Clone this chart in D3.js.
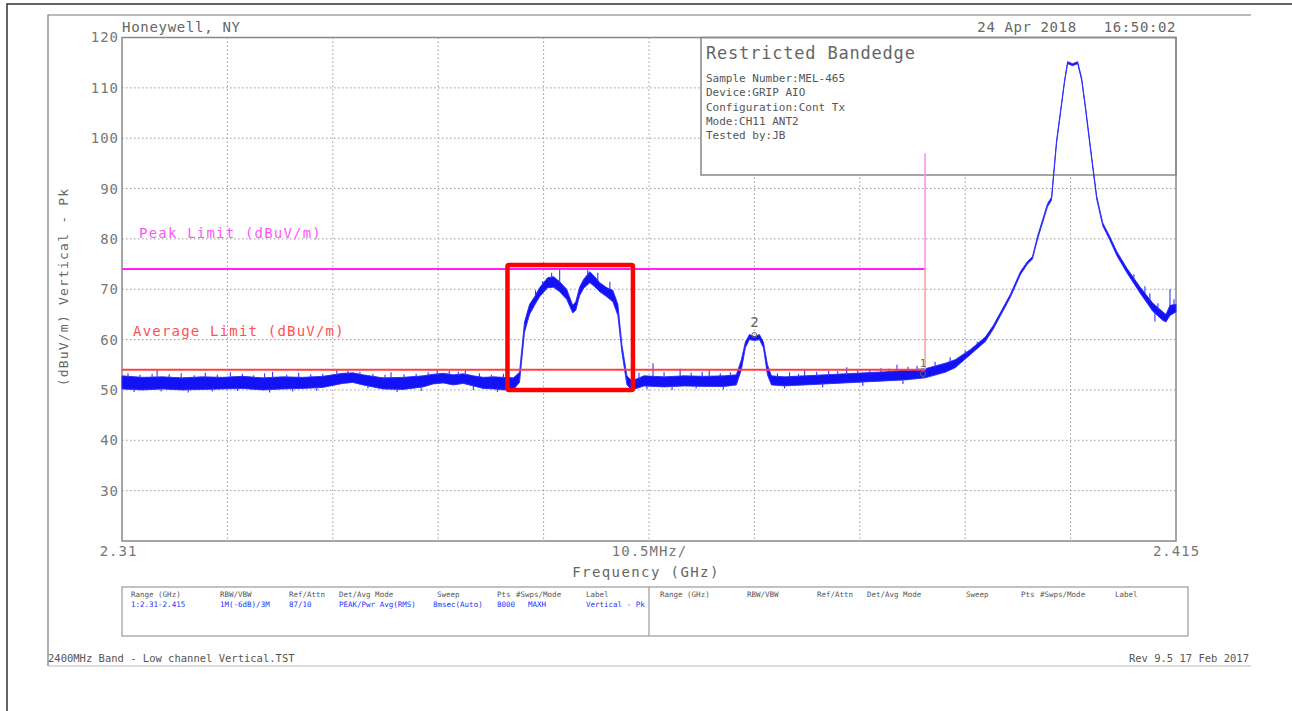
<!DOCTYPE html>
<html><head><meta charset="utf-8">
<script src="https://cdn.jsdelivr.net/npm/d3@7/dist/d3.min.js"></script>
<style>
html,body{margin:0;padding:0;background:#fff;}
svg{display:block;}
text{font-family:"DejaVu Sans Mono",monospace;white-space:pre;}
</style></head><body>
<svg id="chart" width="1292" height="711"></svg>
<script>
// ---------- data ----------
const freqMHz = [2310,2312,2314,2316,2318,2320,2322,2324,2326,2328,2330,2332,2333,2334,2336,2338,2340,2341,2342,2343,2344,2345,2346,2347,2348,2349,
  2349.6,2350.1,2350.6,2351.1,2351.6,2352.4,2353.0,2353.6,2354.3,2354.9,2355.2,2355.6,2356.0,2356.6,2357.1,2357.6,2358.3,2358.9,2359.4,2359.8,2360.3,2360.8,
  2362,2364,2366,2368,2370,2371.2,2371.7,2372.1,2372.5,2373.0,2373.5,2373.9,2374.3,2374.7,
  2376,2378,2380,2382,2384,2386,2388,2390,2392,2393,2394.5,2396,2396.8,2398.5,2399.5,2400.2,2400.7,2401.2,2402.2,2402.6,2403.1,2403.9,2404.2,2404.7,2405.2,2405.6,
  2406.0,2406.6,2407.1,2407.7,2408.4,2409.1,2410.1,2411.4,2412.7,2413.7,2414.0,2414.4,2415];
const traceMax = [52.8,52.5,52.6,52.4,52.6,52.5,52.7,52.4,52.6,52.5,52.7,53.3,53.4,53.0,52.4,52.5,52.8,53.1,53.3,53.0,53.2,52.8,52.5,52.6,52.5,52.4,
  53.5,63.5,67.0,68.5,70.3,72.3,72.5,71.5,70.0,66.8,67.5,70.5,72.0,73.5,72.5,71.3,70.3,69.8,67.0,59.0,52.8,51.8,
  52.8,52.6,52.8,52.7,52.8,53.0,56.0,59.5,61.0,60.6,61.0,59.5,55.0,52.8,
  52.6,52.8,53.0,53.2,53.4,53.6,53.9,54.2,55.3,56.0,58.0,60.5,62.8,69.0,73.5,75.5,76.5,80.5,87.0,88.3,99.5,111.5,115.2,114.8,115.2,112.0,
  106.0,96.3,88.5,83.2,80.5,77.5,74.2,70.5,67.2,65.5,65.0,66.8,67.0];
const traceMin = [50.2,50.0,50.2,50.0,50.1,50.2,50.3,50.0,50.2,50.3,50.5,51.3,51.5,51.0,50.2,50.1,50.6,51.2,51.4,51.0,51.3,50.8,50.3,50.2,50.0,50.1,
  51.5,61.5,65.0,66.8,68.5,70.3,70.4,69.5,68.0,65.3,65.8,68.8,70.2,71.3,70.5,69.5,68.5,67.5,64.8,57.5,51.0,50.0,
  50.8,50.6,50.8,50.7,50.7,51.0,54.0,58.4,60.0,59.8,60.0,58.4,53.0,51.0,
  50.8,51.0,51.2,51.4,51.6,51.8,52.0,52.4,53.5,54.4,57.0,59.6,62.1,68.4,72.9,75.0,76.0,79.9,86.4,87.7,99.0,111.1,114.8,114.4,114.8,111.5,
  105.5,95.8,87.9,82.6,79.8,76.7,73.3,69.3,65.6,63.8,63.5,64.8,65.5];
// single-sample peaks rising above the trace envelope
const spikeFreq = [2310.6,2311.8,2313.0,2313.5,2314.7,2315.9,2317.2,2318.3,2319.5,2320.8,2322.0,2323.1,2324.2,2325.0,2326.4,2327.6,2328.8,2330.0,
  2331.4,2332.5,2333.7,2335.0,2336.2,2336.8,2338.1,2339.3,2340.5,2341.4,2342.6,2343.5,2344.2,2345.6,2346.8,2348.0,
  2351.2,2351.9,2352.8,2353.6,2356.4,2357.4,2358.6,
  2361.5,2362.9,2364.0,2365.6,2366.7,2367.8,2368.5,2369.6,2370.6,
  2375.3,2376.5,2377.4,2378.0,2379.2,2380.4,2381.3,2382.2,2383.3,2384.5,2385.6,2386.4,2387.2,2388.3,2389.2,2391.0,2392.5,2394.0,2395.2,
  2410.8,2411.9,2412.4,2413.2,2414.4,2414.8];
const spikeTop = [53.3,53.0,53.2,54.0,53.1,53.3,52.9,53.4,53.0,53.5,53.2,52.9,53.3,53.6,53.0,53.4,53.1,53.2,
  54.0,53.8,53.6,53.2,53.0,53.5,53.1,53.2,53.5,54.0,53.8,53.6,53.9,53.3,53.0,53.2,
  69.8,71.6,73.3,74.2,74.0,73.3,71.5,
  53.4,55.3,53.5,54.2,53.4,53.6,53.9,53.3,53.5,
  53.3,53.5,53.2,54.0,53.6,53.8,53.7,54.5,54.0,54.1,54.3,54.2,55.0,54.6,54.8,55.6,56.5,57.8,59.6,
  73.0,70.6,69.2,67.2,70.0,68.0];
// single-sample dips below the trace envelope
const dipFreq = [2311.2,2313.9,2316.6,2319.0,2321.5,2324.7,2327.0,2329.4,2334.5,2337.4,2339.8,2345.0,2347.4,
  2362.3,2364.8,2367.2,2369.9,2376.0,2379.8,2383.8,2387.8,2412.9];
const dipBottom = [49.6,49.7,49.5,49.7,49.8,49.5,49.7,49.8,50.3,49.6,49.8,50.0,49.6,
  50.2,50.0,50.3,50.1,50.3,50.5,50.8,51.2,63.6];

const yTickValues = [30,40,50,60,70,80,90,100,110,120];
const xTickValues = [2310,2362.5,2415];
const xTickLabels = ["2.31","10.5MHz/","2.415"];
const xDivisionStep = 10.5;           // MHz per division
const peakLimit = 74, averageLimit = 54;
const limitStartMHz = 2310, limitEndMHz = 2390, limitMarkerTop = 97;
const markerFreq = [2389.8, 2373.0];
const markerLevel = [53.2, 60.9];
const markerLabels = ["1","2"];
const highlightFreq = [2348.4, 2360.9];
const highlightLevel = [50.0, 74.8];
const infoTitle = "Restricted Bandedge";
const infoLines = ["Sample Number:MEL-465","Device:GRIP AIO","Configuration:Cont Tx","Mode:CH11 ANT2","Tested by:JB"];
const tableHeaders = ["Range (GHz)","RBW/VBW","Ref/Attn","Det/Avg Mode","Sweep","Pts","#Swps/Mode","Label"];
const tableValues = ["1:2.31-2.415","1M(-6dB)/3M","87/10","PEAK/Pwr Avg(RMS)","8msec(Auto)","8000","MAXH","Vertical - Pk"];

// ---------- layout ----------
const svg = d3.select("#chart");
const X0 = 122, X1 = 1176, Y0 = 37.5, Y1 = 541;
const x = d3.scaleLinear().domain([2310, 2415]).range([X0, X1]);
const y = d3.scaleLinear().domain([20, 120]).range([Y1, Y0]);
const grey = "#666";

// page frames
svg.append("path").attr("d", "M7,711 V4 H1292").attr("fill","none").attr("stroke","#333").attr("stroke-width",1.5);
svg.append("path").attr("d", "M48,666 V15 H1251").attr("fill","none").attr("stroke","#777").attr("stroke-width",1.2);
svg.append("line").attr("x1",48).attr("x2",1251).attr("y1",666).attr("y2",666).attr("stroke","#bbb").attr("stroke-width",1);

// grid
const gridX = d3.range(1, 10).map(i => 2310 + i * xDivisionStep);
const gridY = yTickValues.filter(v => v < 120);
const g = svg.append("g");
g.selectAll(".gx").data(gridX).join("line")
  .attr("x1", d => x(d)).attr("x2", d => x(d)).attr("y1", Y0).attr("y2", Y1)
  .attr("stroke","#999").attr("stroke-width",1).attr("stroke-dasharray","1.5,2.5");
g.selectAll(".gy").data(gridY).join("line")
  .attr("x1", X0).attr("x2", X1).attr("y1", d => y(d)).attr("y2", d => y(d))
  .attr("stroke","#999").attr("stroke-width",1).attr("stroke-dasharray","1.5,2.5");

// info box (covers grid)
svg.append("rect").attr("x",701).attr("y",Y0).attr("width",X1-701).attr("height",175-Y0)
  .attr("fill","#fff").attr("stroke","#888").attr("stroke-width",1.5);
svg.append("text").attr("x",706).attr("y",59).attr("font-size",17).attr("letter-spacing",0.8)
  .attr("fill",grey).text(infoTitle);
svg.selectAll(".info").data(infoLines).join("text")
  .attr("x",706).attr("y",(d,i)=>82+i*14.3).attr("font-size",11).attr("fill","#555").text(d=>d);

// plot frame
svg.append("rect").attr("x",X0).attr("y",Y0).attr("width",X1-X0).attr("height",Y1-Y0)
  .attr("fill","none").attr("stroke","#888").attr("stroke-width",1.5);

// axes
const yAxis = d3.axisLeft(y).tickValues(yTickValues).tickSize(0).tickPadding(3).tickFormat(d3.format("d"));
const ya = svg.append("g").attr("transform",`translate(${X0},0)`).call(yAxis);
ya.select(".domain").remove();
ya.selectAll("text").attr("font-size",14).attr("letter-spacing",1).attr("fill","#777")
  .attr("font-family","DejaVu Sans Mono");
const xAxis = d3.axisBottom(x).tickValues(xTickValues).tickSize(0).tickPadding(0)
  .tickFormat((d,i)=>xTickLabels[i]);
const xa = svg.append("g").attr("transform",`translate(0,${Y1})`).call(xAxis);
xa.select(".domain").remove();
xa.selectAll("text").attr("font-size",14).attr("letter-spacing",1).attr("fill","#777")
  .attr("font-family","DejaVu Sans Mono").attr("dy","1.05em")
  .attr("dx",(d,i)=> i===0 ? -4 : 0);

svg.append("text").attr("x",646).attr("y",577).attr("text-anchor","middle").attr("font-size",14)
  .attr("letter-spacing",1.4).attr("fill",grey).text("Frequency (GHz)");
svg.append("text").attr("transform","translate(68,287) rotate(-90)").attr("text-anchor","middle")
  .attr("font-size",13).attr("letter-spacing",1.2).attr("fill",grey).text("(dBuV/m) Vertical - Pk");
svg.append("text").attr("x",122).attr("y",32).attr("font-size",14).attr("letter-spacing",0.7)
  .attr("fill",grey).text("Honeywell, NY");
svg.append("text").attr("x",1176).attr("y",32).attr("text-anchor","end").attr("font-size",14)
  .attr("letter-spacing",0.6).attr("fill",grey).text("24 Apr 2018   16:50:02");

// trace
const pts = freqMHz.map((f,i)=>({f, hi:traceMax[i], lo:traceMin[i]}));
const hiAt = d3.scaleLinear().domain(freqMHz).range(traceMax);
const loAt = d3.scaleLinear().domain(freqMHz).range(traceMin);
svg.append("path").datum(pts)
  .attr("d", d3.area().x(d=>x(d.f)).y0(d=>y(d.lo)).y1(d=>y(d.hi)))
  .attr("fill","#1212f5").attr("stroke","#2b2bff").attr("stroke-width",0.9).attr("stroke-linejoin","round");
svg.selectAll(".spike").data(spikeFreq).join("line")
  .attr("x1",d=>x(d)).attr("x2",d=>x(d)).attr("y1",d=>y(hiAt(d))+1).attr("y2",(d,i)=>y(spikeTop[i]))
  .attr("stroke","#3535ff").attr("stroke-width",1.1);
svg.selectAll(".dip").data(dipFreq).join("line")
  .attr("x1",d=>x(d)).attr("x2",d=>x(d)).attr("y1",d=>y(loAt(d))-1).attr("y2",(d,i)=>y(dipBottom[i]))
  .attr("stroke","#3535ff").attr("stroke-width",1.1);

// limit lines
svg.append("line").attr("x1",x(limitStartMHz)).attr("x2",x(limitEndMHz)).attr("y1",y(peakLimit)).attr("y2",y(peakLimit))
  .attr("stroke","#ff22ff").attr("stroke-width",2);
svg.append("line").attr("x1",x(limitStartMHz)).attr("x2",x(limitEndMHz)).attr("y1",y(averageLimit)).attr("y2",y(averageLimit))
  .attr("stroke","#ff4040").attr("stroke-width",2);
svg.append("line").attr("x1",x(limitEndMHz)).attr("x2",x(limitEndMHz)).attr("y1",y(limitMarkerTop)).attr("y2",y(peakLimit))
  .attr("stroke","#ff88ff").attr("stroke-width",1.5);
svg.append("line").attr("x1",x(limitEndMHz)).attr("x2",x(limitEndMHz)).attr("y1",y(peakLimit)).attr("y2",y(averageLimit))
  .attr("stroke","#ff9a9a").attr("stroke-width",1.5);
svg.append("text").attr("x",139).attr("y",238).attr("font-size",14).attr("letter-spacing",1.2)
  .attr("fill","#ff55ff").text("Peak Limit (dBuV/m)");
svg.append("text").attr("x",133).attr("y",336).attr("font-size",14).attr("letter-spacing",1.2)
  .attr("fill","#ff5050").text("Average Limit (dBuV/m)");

// markers
svg.selectAll(".mk").data(markerFreq).join("circle")
  .attr("cx",d=>x(d)).attr("cy",(d,i)=>y(markerLevel[i])).attr("r",2.6)
  .attr("fill","none").attr("stroke","#666").attr("stroke-width",1);
svg.selectAll(".mkl").data(markerFreq).join("text")
  .attr("x",d=>x(d)).attr("y",(d,i)=>y(markerLevel[i]) - (i===0 ? 7 : 8))
  .attr("text-anchor","middle").attr("font-size",(d,i)=> i===0 ? 10 : 14).attr("fill","#666")
  .text((d,i)=>markerLabels[i]);

// highlight box
svg.append("rect").attr("x",x(highlightFreq[0])).attr("y",y(highlightLevel[1]))
  .attr("width",x(highlightFreq[1])-x(highlightFreq[0])).attr("height",y(highlightLevel[0])-y(highlightLevel[1]))
  .attr("fill","none").attr("stroke","#ff0000").attr("stroke-width",4.5).attr("rx",1.5);

// settings table
svg.append("rect").attr("x",122).attr("y",587).attr("width",1066).attr("height",49)
  .attr("fill","none").attr("stroke","#999").attr("stroke-width",1.2);
svg.append("line").attr("x1",649).attr("x2",649).attr("y1",587).attr("y2",636).attr("stroke","#999").attr("stroke-width",1.2);
const colL = [131,220,289,339,437,497,516,586];
const colR = [660,747,817,867,966,1021,1040,1115];
const valX = [131,220,289,339,433,497,528,586];
svg.selectAll(".thl").data(tableHeaders).join("text").attr("x",(d,i)=>colL[i]).attr("y",597)
  .attr("font-size",7.5).attr("fill","#555").text(d=>d);
svg.selectAll(".thr").data(tableHeaders).join("text").attr("x",(d,i)=>colR[i]).attr("y",597)
  .attr("font-size",7.5).attr("fill","#555").text(d=>d);
svg.append("clipPath").attr("id","tclip").append("rect").attr("x",122).attr("y",587).attr("width",526).attr("height",49);
svg.append("g").attr("clip-path","url(#tclip)").selectAll("text").data(tableValues).join("text")
  .attr("x",(d,i)=>valX[i]).attr("y",607).attr("font-size",7.5).attr("fill","#2233ff").text(d=>d);

// footer
svg.append("text").attr("x",48).attr("y",662).attr("font-size",10.5).attr("fill","#555")
  .text("2400MHz Band - Low channel Vertical.TST");
svg.append("text").attr("x",1249).attr("y",662).attr("text-anchor","end").attr("font-size",10.5).attr("fill","#555")
  .text("Rev 9.5 17 Feb 2017");
</script>
</body></html>
